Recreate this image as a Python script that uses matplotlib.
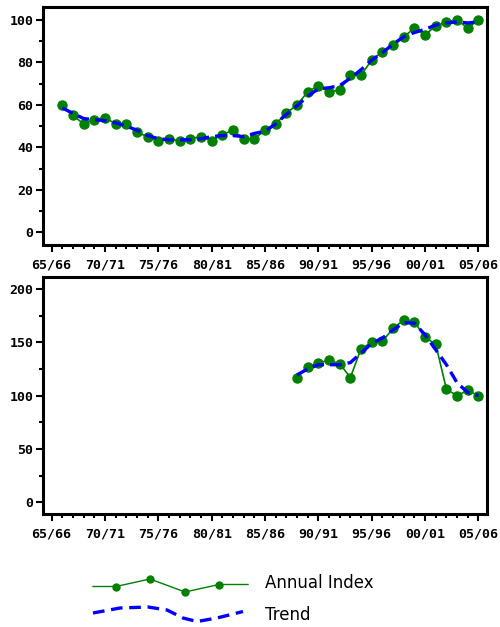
import matplotlib
matplotlib.use("Agg")
import matplotlib.pyplot as plt
from matplotlib.ticker import MultipleLocator, FixedLocator

GREEN = "#008000"
BLUE = "#0000FF"

# season start years, label 65/66 means 1965
TICK_YEARS = [1965, 1970, 1975, 1980, 1985, 1990, 1995, 2000, 2005]
TICK_LABELS = ["65/66", "70/71", "75/76", "80/81", "85/86", "90/91", "95/96", "00/01", "05/06"]

# top panel
TOP_YEARS = list(range(1966, 2006))
TOP_INDEX = [60, 55, 51, 53, 54, 51, 51, 47, 45, 43,
             44, 43, 44, 45, 43, 46, 48, 44, 44, 48,
             51, 56, 60, 66, 69, 66, 67, 74, 74, 81,
             85, 88, 92, 96, 93, 97, 99, 100, 96, 100]
TOP_TREND = [58.5, 56, 53.5, 53, 52.5, 51.5, 50, 48, 45.5, 44,
             43.5, 43.5, 43.5, 44, 45, 45.5, 45.5, 45, 46.5, 47.5,
             51, 55.5, 59.5, 64, 67.5, 68, 69, 72.5, 76.5, 81,
             84.5, 88.5, 92, 94, 95.5, 97.5, 98.5, 99, 98.5, 99]

# bottom panel
BOT_YEARS = list(range(1988, 2006))
BOT_INDEX = [117, 127, 131, 133, 130, 117, 144, 150, 151, 163,
             171, 169, 155, 148, 106, 100, 105, 100]
BOT_TREND = [119.5, 125, 129, 129, 129, 131, 140, 149, 154, 161.5,
             168.5, 168, 157, 143, 129, 112, 103, 100]

# legend sample shapes (figure pixel coordinates)
LEG_GREEN_X = [93, 116, 150, 185, 219, 248]
LEG_GREEN_Y = [586.5, 586.5, 579, 592, 584.5, 584.5]
LEG_BLUE_X = [93, 120, 148, 167, 183, 197, 217, 243]
LEG_BLUE_Y = [613, 608, 607, 610, 618, 621.5, 618, 611.5]
LEG_LABELS = ["Annual Index", "Trend"]

W, H = 500, 627
fig = plt.figure(figsize=(W / 100, H / 100), dpi=100)

tick_font = dict(family="DejaVu Sans Mono", weight="bold", size=9.5)


def style_axes(ax, ylim, ymajor, yminor):
    ax.set_xlim(1964.2, 2005.8)
    ax.set_ylim(*ylim)
    ax.xaxis.set_major_locator(FixedLocator(TICK_YEARS))
    ax.xaxis.set_minor_locator(MultipleLocator(1))
    ax.set_xticklabels(TICK_LABELS, **tick_font)
    ax.yaxis.set_major_locator(MultipleLocator(ymajor))
    ax.yaxis.set_minor_locator(MultipleLocator(yminor))
    for lab in ax.get_yticklabels():
        lab.set_fontfamily(tick_font["family"])
        lab.set_fontweight("bold")
        lab.set_fontsize(tick_font["size"])
    ax.tick_params(which="major", direction="out", length=5, width=1.5, pad=2)
    ax.tick_params(which="minor", direction="out", length=3, width=1.5)
    ax.tick_params(axis="x", which="major", pad=4.5)
    for sp in ax.spines.values():
        sp.set_linewidth(2.2)


def draw(ax, years, index, trend):
    ax.plot(years, index, color=GREEN, lw=1.2, marker="o", ms=6.5,
            mfc=GREEN, mec=GREEN, zorder=2)
    ax.plot(years, trend, color=BLUE, lw=2.4, ls=(0, (3.5, 1.8)), zorder=3)


ax1 = fig.add_axes([43 / W, 1 - 245 / H, 444 / W, 238 / H])
draw(ax1, TOP_YEARS, TOP_INDEX, TOP_TREND)
style_axes(ax1, (-6, 106), 20, 10)

ax2 = fig.add_axes([43 / W, 1 - 514 / H, 444 / W, 236.7 / H])
draw(ax2, BOT_YEARS, BOT_INDEX, BOT_TREND)
style_axes(ax2, (-11, 211), 50, 25)

# legend drawn in pixel coordinates
lax = fig.add_axes([0, 0, 1, 67 / H])
lax.set_xlim(0, W)
lax.set_ylim(H, H - 67)
lax.axis("off")
lax.plot(LEG_GREEN_X, LEG_GREEN_Y, color=GREEN, lw=1.0)
lax.plot(LEG_GREEN_X[1:-1], LEG_GREEN_Y[1:-1], ls="none", marker="o", ms=5,
         mfc=GREEN, mec=GREEN)
lax.plot(LEG_BLUE_X, LEG_BLUE_Y, color=BLUE, lw=2.4, ls=(0, (3.5, 2)))
lax.text(265, 583, LEG_LABELS[0], fontsize=12, va="center", ha="left")
lax.text(265, 615, LEG_LABELS[1], fontsize=12, va="center", ha="left")

fig.savefig("out.png", dpi=100)
